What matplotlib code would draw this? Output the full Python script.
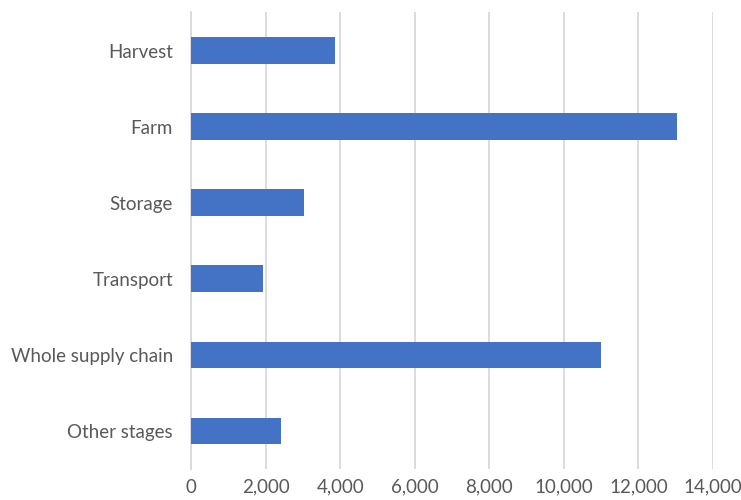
import matplotlib.pyplot as plt

# Food loss by supply-chain stage
stages = ['Harvest', 'Farm', 'Storage', 'Transport', 'Whole supply chain', 'Other stages']
values = [3870, 13050, 3040, 1930, 11000, 2400]
xticks = [0, 2000, 4000, 6000, 8000, 10000, 12000, 14000]

plt.rcParams['font.family'] = ['Lato', 'DejaVu Sans']

fig = plt.figure(figsize=(7.41, 5), dpi=100)
ax = fig.add_axes([0.258, 0.062, 0.704, 0.913])

ypos = list(range(len(stages)))[::-1]
ax.barh(ypos, values, height=0.35, color='#4472C4', zorder=3)

ax.set_xlim(0, 14000)
ax.set_ylim(-0.5, len(stages) - 0.5)
ax.set_xticks(xticks)
ax.set_xticklabels([f'{v:,}' for v in xticks])
ax.set_yticks(ypos)
ax.set_yticklabels(stages)

ax.grid(axis='x', color='#d9d9d9', linewidth=1.3, zorder=0)
for s in ['top', 'right', 'bottom']:
    ax.spines[s].set_visible(False)
ax.spines['left'].set_color('#d9d9d9')
ax.spines['left'].set_linewidth(1.3)
ax.tick_params(length=0, labelsize=13.5, colors='#595959')
ax.tick_params(axis='x', pad=7)
ax.tick_params(axis='y', pad=13)

plt.savefig('out.png', dpi=100)
